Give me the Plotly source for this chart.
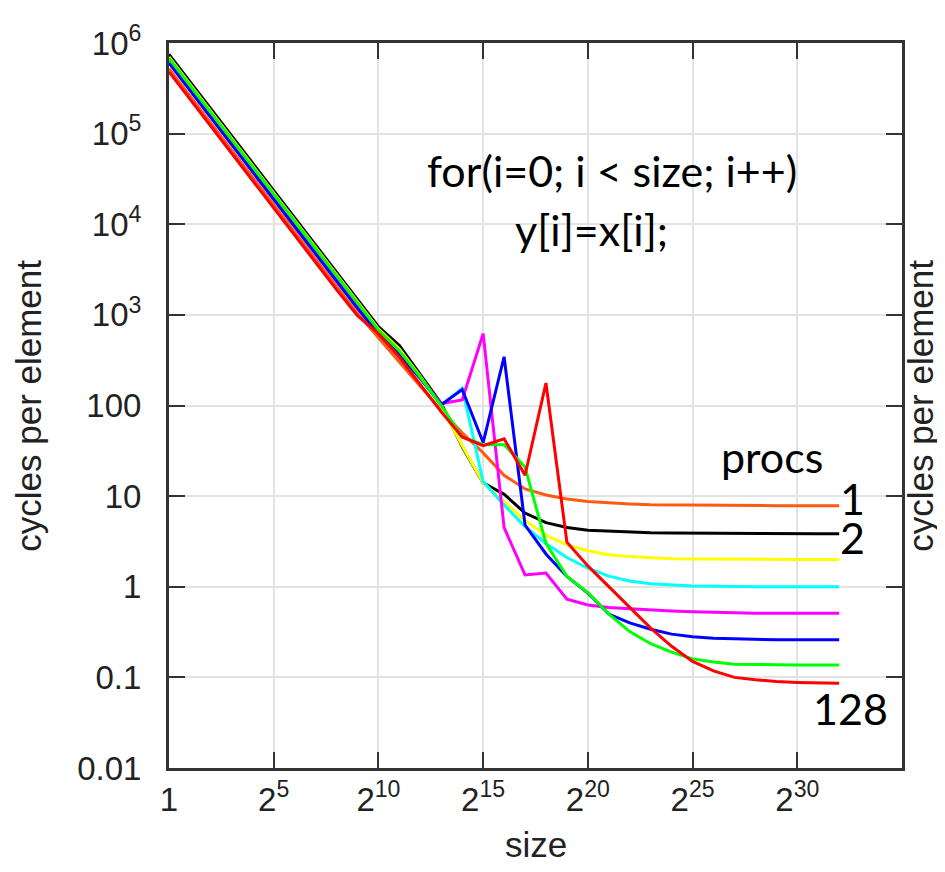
import plotly.graph_objects as go

# size = 2**exponent
exponents = list(range(33))
sizes = [2 ** e for e in exponents]

x_tick_exps = [0, 5, 10, 15, 20, 25, 30]
x_tick_text = ["1", "2<sup>5</sup>", "2<sup>10</sup>", "2<sup>15</sup>", "2<sup>20</sup>",
               "2<sup>25</sup>", "2<sup>30</sup>"]
y_tick_vals = [0.01, 0.1, 1, 10, 100, 1e3, 1e4, 1e5, 1e6]
y_tick_text = ["0.01", "0.1", "1", "10", "100", "10<sup>3</sup>", "10<sup>4</sup>",
               "10<sup>5</sup>", "10<sup>6</sup>"]

procs = ["1", "2", "4", "8", "16", "32", "64", "128"]

cpe_1 = [520000, 260000, 130000, 65000, 32500, 16300, 8200, 4100, 2060, 1040, 560, 300,
         165, 88, 50, 30, 17, 12, 10.3, 9.3, 8.7, 8.4, 8.2, 8.05, 8.0, 7.95, 7.9, 7.9,
         7.85, 7.85, 7.85, 7.85, 7.85]
cpe_2 = [750000, 375000, 188000, 94000, 47000, 23500, 11800, 5900, 2950, 1480, 740, 460,
         220, 105, 35, 14, 10.5, 6.5, 5.1, 4.5, 4.2, 4.1, 4.0, 3.95, 3.92, 3.9, 3.88,
         3.87, 3.86, 3.86, 3.85, 3.85, 3.85]
cpe_4 = [700000, 350000, 175000, 88000, 44000, 22000, 11000, 5500, 2750, 1380, 700, 420,
         210, 100, 36, 14, 8.8, 5.4, 3.7, 2.9, 2.5, 2.25, 2.15, 2.08, 2.04, 2.02, 2.01,
         2.0, 2.0, 2.0, 2.0, 2.0, 2.0]
cpe_8 = [650000, 325000, 162000, 81000, 41000, 20500, 10200, 5100, 2550, 1280, 650, 380,
         200, 100, 155, 14.5, 8.0, 4.6, 3.0, 2.1, 1.6, 1.31, 1.16, 1.08, 1.04, 1.02, 1.01,
         1.0, 1.0, 1.0, 1.0, 1.0, 1.0]
cpe_16 = [620000, 310000, 155000, 78000, 39000, 19500, 9800, 4900, 2450, 1230, 640, 370,
          200, 105, 115, 620, 4.5, 1.35, 1.42, 0.73, 0.63, 0.59, 0.57, 0.55, 0.54, 0.53,
          0.52, 0.52, 0.51, 0.51, 0.51, 0.51, 0.51]
cpe_32 = [600000, 300000, 150000, 75000, 37500, 18800, 9400, 4700, 2350, 1180, 620, 360,
          200, 102, 150, 39, 345, 4.8, 2.3, 1.3, 0.85, 0.5, 0.4, 0.34, 0.3, 0.28, 0.27,
          0.265, 0.26, 0.26, 0.26, 0.26, 0.26]
cpe_64 = [680000, 340000, 170000, 85000, 42500, 21200, 10600, 5300, 2650, 1330, 680, 400,
          205, 100, 45, 37, 37, 21, 3.0, 1.3, 0.86, 0.5, 0.32, 0.235, 0.19, 0.16, 0.148,
          0.14, 0.14, 0.138, 0.137, 0.137, 0.137]
cpe_128 = [480000, 240000, 120000, 60000, 30000, 15000, 7500, 3750, 1900, 980, 620, 340,
           170, 85, 45, 36, 43, 17, 177, 3.1, 1.7, 1.0, 0.6, 0.35, 0.22, 0.15, 0.118,
           0.10, 0.094, 0.09, 0.088, 0.087, 0.086]

series = [cpe_1, cpe_2, cpe_4, cpe_8, cpe_16, cpe_32, cpe_64, cpe_128]
colors = ["#ff5a14", "#000000", "#ffff00", "#00ffff", "#ff00ff", "#0000ff", "#00ff00",
          "#ff0000"]

fig = go.Figure()
for name, vals, col in zip(procs, series, colors):
    fig.add_trace(go.Scatter(x=sizes, y=vals, mode="lines", name=name,
                             line=dict(color=col, width=3), showlegend=False))

tick_font = dict(family="Liberation Sans, Arial, sans-serif", size=33, color="#222222")
axis_common = dict(
    type="log", showline=True, linewidth=3, linecolor="#333333", mirror="ticks",
    ticks="inside", ticklen=16, tickwidth=2, tickcolor="#333333",
    showgrid=True, gridcolor="#e3e3e3", gridwidth=2, zeroline=False,
    tickfont=tick_font,
)

fig.update_xaxes(**axis_common, range=[0, 35 * 0.30103],
                 tickvals=[2 ** e for e in x_tick_exps], ticktext=x_tick_text,
                 ticklabelstandoff=0)
fig.update_yaxes(**axis_common, range=[-2, 6], tickvals=y_tick_vals,
                 ticktext=y_tick_text, ticklabelstandoff=18)

label_font = dict(family="Liberation Sans, Arial, sans-serif", size=35, color="#222222")
note_font = dict(family="Lato, sans-serif", size=43, color="#000000")

annotations = [
    dict(text="size", x=0.5, y=-0.105, font=label_font),
    dict(text="cycles per element", x=-0.192, y=0.5, textangle=-90, font=label_font),
    dict(text="cycles per element", x=1.025, y=0.5, textangle=-90, font=label_font),
    dict(text="for(i=0; i < size; i++)", x=0.604, y=0.824, font=note_font),
    dict(text="y[i]=x[i];", x=0.577, y=0.743, font=note_font),
    dict(text="procs", x=0.823, y=0.430, font=note_font),
    dict(text="1", x=0.933, y=0.372, font=note_font),
    dict(text="2", x=0.933, y=0.318, font=note_font),
    dict(text="128", x=0.930, y=0.082, font=note_font),
]
for a in annotations:
    a.update(xref="paper", yref="paper", showarrow=False, xanchor="center",
             yanchor="middle")

# page body adds an 8px offset, so the figure is 8px smaller than the window
fig.update_layout(
    width=937, height=864,
    margin=dict(l=161, r=43, t=25, b=104),
    plot_bgcolor="white", paper_bgcolor="white",
    annotations=annotations,
)

fig.write_html("out.html")
